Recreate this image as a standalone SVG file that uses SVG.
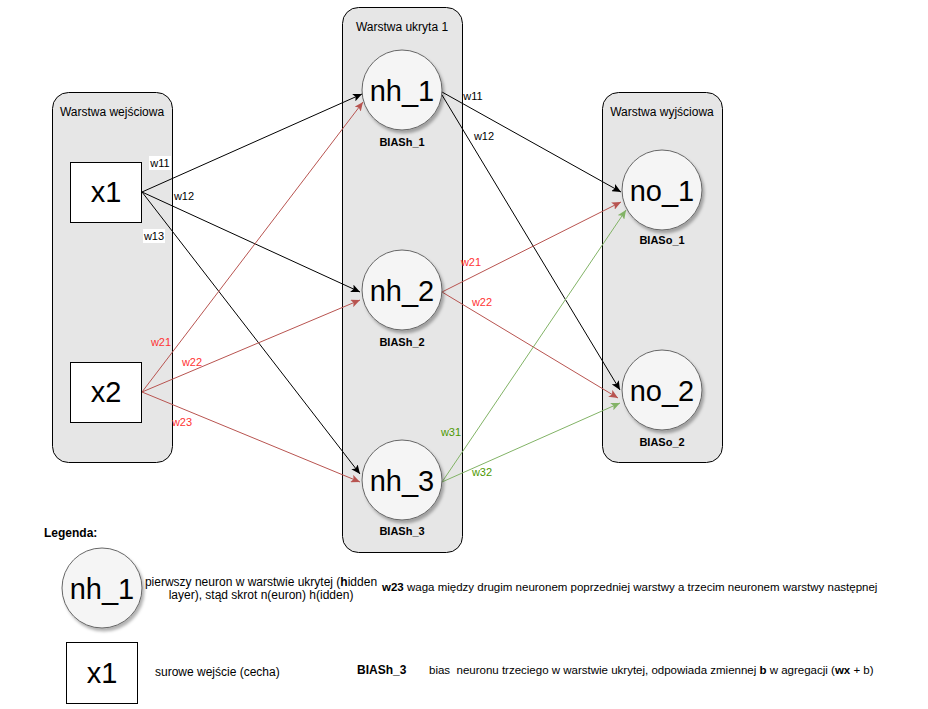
<svg xmlns="http://www.w3.org/2000/svg" width="928" height="709" viewBox="0 0 928 709">
<style>
text{font-family:"Liberation Sans",Arial,sans-serif;fill:#000}
.layer{fill:#e6e6e6;stroke:#000;stroke-width:1}
.title{font-size:12px;text-anchor:middle}
.neuron{fill:#f5f5f5;stroke:#666;stroke-width:1;filter:url(#sh)}
.big{font-size:29px;text-anchor:middle}
.bias{font-size:11px;font-weight:bold;text-anchor:middle}
.box{fill:#fff;stroke:#000;stroke-width:1}
.e{fill:none;stroke-width:1}
.k{stroke:#000;marker-end:url(#ak)}
.r{stroke:#b85450;marker-end:url(#ar)}
.g{stroke:#82b366;marker-end:url(#ag)}
.lbl{font-size:11px;text-anchor:middle}
.lr{fill:#ff3333}
.lg{fill:#4d9900}
.bg{fill:#fff}
.leg{font-size:11.5px}
.leg12{font-size:12px}
</style>
<defs>
<filter id="sh" x="-20%" y="-20%" width="150%" height="150%">
<feDropShadow dx="2" dy="3" stdDeviation="1.5" flood-color="#000" flood-opacity="0.3"/>
</filter>
<marker id="ak" markerWidth="10" markerHeight="8" refX="9" refY="4" orient="auto" markerUnits="userSpaceOnUse"><path d="M0,0 L9,4 L0,8 L2,4 z" fill="#000"/></marker>
<marker id="ar" markerWidth="10" markerHeight="8" refX="9" refY="4" orient="auto" markerUnits="userSpaceOnUse"><path d="M0,0 L9,4 L0,8 L2,4 z" fill="#b85450"/></marker>
<marker id="ag" markerWidth="10" markerHeight="8" refX="9" refY="4" orient="auto" markerUnits="userSpaceOnUse"><path d="M0,0 L9,4 L0,8 L2,4 z" fill="#82b366"/></marker>
</defs>
<rect width="928" height="709" fill="#fff"/>

<g id="layer-input">
<rect class="layer" x="52.5" y="92.5" width="120" height="370" rx="16"/>
<text class="title" x="112" y="116">Warstwa wejściowa</text>
</g>
<g id="layer-hidden">
<rect class="layer" x="342.5" y="7.5" width="120" height="545" rx="16"/>
<text class="title" x="402" y="31">Warstwa ukryta 1</text>
</g>
<g id="layer-output">
<rect class="layer" x="602.5" y="92.5" width="120" height="370" rx="16"/>
<text class="title" x="662" y="116">Warstwa wyjściowa</text>
</g>

<g id="connectors">
<line class="e k" x1="142" y1="192" x2="362" y2="94"/>
<line class="e k" x1="142" y1="192" x2="360" y2="292"/>
<line class="e k" x1="142" y1="192" x2="360" y2="474"/>
<line class="e r" x1="142" y1="392" x2="363" y2="102"/>
<line class="e r" x1="142" y1="392" x2="360" y2="300"/>
<line class="e r" x1="142" y1="392" x2="360" y2="482"/>
<line class="e k" x1="442" y1="92" x2="621" y2="192"/>
<line class="e k" x1="442" y1="95" x2="620" y2="390"/>
<line class="e r" x1="442" y1="292" x2="621" y2="202"/>
<line class="e r" x1="442" y1="292" x2="618" y2="398"/>
<line class="e g" x1="442" y1="482" x2="626" y2="210"/>
<line class="e g" x1="442" y1="482" x2="620" y2="403"/>

<rect class="bg" x="149" y="156" width="22" height="14"/>
<text class="lbl" x="160" y="167">w11</text>
<text class="lbl" x="184" y="200">w12</text>
<rect class="bg" x="143" y="229" width="22" height="14"/>
<text class="lbl" x="154" y="240">w13</text>
<text class="lbl lr" x="161" y="346">w21</text>
<text class="lbl lr" x="192" y="366">w22</text>
<text class="lbl lr" x="182" y="426">w23</text>
<text class="lbl" x="473" y="100">w11</text>
<text class="lbl" x="484" y="140">w12</text>
<text class="lbl lr" x="471" y="266">w21</text>
<text class="lbl lr" x="482" y="306">w22</text>
<text class="lbl lg" x="451" y="436">w31</text>
<text class="lbl lg" x="482" y="476">w32</text>
</g>

<g id="x1">
<rect class="box" x="70.5" y="162.5" width="71" height="60"/>
<text class="big" x="106" y="202">x1</text>
</g>
<g id="x2">
<rect class="box" x="70.5" y="362.5" width="71" height="60"/>
<text class="big" x="106" y="402">x2</text>
</g>

<g id="nh_1">
<circle class="neuron" cx="402" cy="90" r="40"/>
<text class="big" x="402" y="101">nh_1</text>
<text class="bias" x="402" y="146">BIASh_1</text>
</g>
<g id="nh_2">
<circle class="neuron" cx="402" cy="290" r="40"/>
<text class="big" x="402" y="301">nh_2</text>
<text class="bias" x="402" y="346">BIASh_2</text>
</g>
<g id="nh_3">
<circle class="neuron" cx="402" cy="480" r="40"/>
<text class="big" x="402" y="491">nh_3</text>
<text class="bias" x="402" y="535">BIASh_3</text>
</g>
<g id="no_1">
<circle class="neuron" cx="662" cy="190" r="40"/>
<text class="big" x="662" y="201">no_1</text>
<text class="bias" x="662" y="244">BIASo_1</text>
</g>
<g id="no_2">
<circle class="neuron" cx="662" cy="390" r="40"/>
<text class="big" x="662" y="401">no_2</text>
<text class="bias" x="662" y="446">BIASo_2</text>
</g>

<g id="legend">
<text x="44" y="537" style="font-size:12px;font-weight:bold">Legenda:</text>
<g id="legend-neuron">
<circle class="neuron" cx="102" cy="588" r="40"/>
<text class="big" x="102" y="599">nh_1</text>
</g>
<text class="leg12" x="261" y="586" text-anchor="middle">pierwszy neuron w warstwie ukrytej (<tspan font-weight="bold">h</tspan>idden</text>
<text class="leg12" x="261" y="599" text-anchor="middle">layer), stąd skrot n(euron) h(idden)</text>
<text class="leg" x="382" y="591"><tspan font-weight="bold">w23</tspan> waga między drugim neuronem poprzedniej warstwy a trzecim neuronem warstwy następnej</text>
<g id="legend-input">
<rect class="box" x="66.5" y="642.5" width="71" height="61"/>
<text class="big" x="102" y="683">x1</text>
</g>
<text class="leg12" x="155" y="676">surowe wejście (cecha)</text>
<text class="leg12" x="357" y="674" font-weight="bold">BIASh_3</text>
<text class="leg" x="429" y="674" xml:space="preserve">bias  neuronu trzeciego w warstwie ukrytej, odpowiada zmiennej <tspan font-weight="bold">b</tspan> w agregacji (<tspan font-weight="bold">wx</tspan> + b)</text>
</g>
</svg>
